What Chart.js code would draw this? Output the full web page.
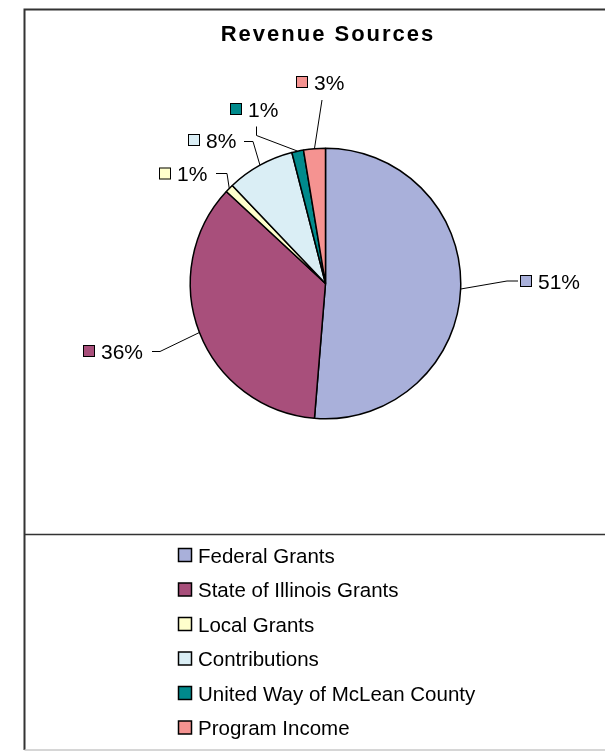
<!DOCTYPE html>
<html>
<head>
<meta charset="utf-8">
<title>Revenue Sources</title>
<script src="https://cdn.jsdelivr.net/npm/chart.js@4.4.1/dist/chart.umd.min.js"></script>
<style>
  body { margin: 0; background: #fff; }
  canvas { display: block; }
</style>
</head>
<body>
<canvas id="pie" width="605" height="751"></canvas>
<script>
// data
var categories = ["Federal Grants", "State of Illinois Grants", "Local Grants",
                  "Contributions", "United Way of McLean County", "Program Income"];
var shares = [51.3, 35.6, 1.0, 8.1, 1.4, 2.6];
var sliceColors = ["#A9B0DA", "#A84F7B", "#FFFFCC", "#DAEEF5", "#008A8C", "#F59391"];

var FONT = "'Liberation Sans', Arial, sans-serif";

// where each percentage label sits (box left, box middle) and how its leader bends
var labelSpots = [
    { bx: 520, by: 281, elbow: [507, 281], end: [518, 281] },
    { bx: 83, by: 351, elbow: [160, 351.5], end: [152, 351.5] },
    { bx: 159, by: 173.5, elbow: [227, 173.5], end: [216, 173.5] },
    { bx: 188, by: 140, elbow: [253, 141.5], end: [244, 141.5] },
    { bx: 230, by: 109, elbow: [256.5, 135.5], end: [256.5, 126.5] },
    { bx: 296, by: 82, elbow: [322, 100], end: [322, 100] }
];

var frame = {
    id: "frame",
    beforeDraw: function (chart) {
        var c = chart.ctx;
        c.save();
        c.fillStyle = "#fff";
        c.fillRect(0, 0, chart.width, chart.height);
        // outer border (right edge runs off the picture)
        c.strokeStyle = "#333";
        c.lineWidth = 2;
        c.beginPath();
        c.moveTo(610, 9.5);
        c.lineTo(24.5, 9.5);
        c.lineTo(24.5, 750);
        c.stroke();
        c.strokeStyle = "#c8c8c8";
        c.lineWidth = 1.5;
        c.beginPath();
        c.moveTo(24.5, 750);
        c.lineTo(610, 750);
        c.stroke();
        // line above the legend
        c.strokeStyle = "#333";
        c.lineWidth = 1.5;
        c.beginPath();
        c.moveTo(24.5, 534.5);
        c.lineTo(610, 534.5);
        c.stroke();
        // title
        c.fillStyle = "#000";
        c.font = "bold 22px " + FONT;
        c.letterSpacing = "2px";
        c.textAlign = "center";
        c.textBaseline = "alphabetic";
        c.fillText("Revenue Sources", 328, 40.5);
        c.restore();
    }
};

var pctLabels = {
    id: "pctLabels",
    afterDatasetsDraw: function (chart) {
        var c = chart.ctx;
        var meta = chart.getDatasetMeta(0);
        c.save();
        c.font = "21px " + FONT;
        c.textAlign = "left";
        c.textBaseline = "alphabetic";
        meta.data.forEach(function (arc, i) {
            var spot = labelSpots[i];
            var mid = (arc.startAngle + arc.endAngle) / 2;
            var px = arc.x + Math.cos(mid) * arc.outerRadius;
            var py = arc.y + Math.sin(mid) * arc.outerRadius;
            // leader line
            c.strokeStyle = "#000";
            c.lineWidth = 1;
            c.beginPath();
            c.moveTo(px, py);
            c.lineTo(spot.elbow[0], spot.elbow[1]);
            c.lineTo(spot.end[0], spot.end[1]);
            c.stroke();
            // colour key
            c.fillStyle = sliceColors[i];
            c.fillRect(spot.bx, spot.by - 6, 12, 12);
            c.strokeRect(spot.bx + 0.5, spot.by - 5.5, 11, 11);
            c.fillStyle = "#000";
            c.fillText(Math.round(shares[i]) + "%", spot.bx + 18, spot.by + 7.5);
        });
        c.restore();
    }
};

var legendBox = {
    id: "legendBox",
    afterDraw: function (chart) {
        var c = chart.ctx;
        c.save();
        c.font = "20.5px " + FONT;
        c.textBaseline = "alphabetic";
        categories.forEach(function (name, i) {
            var y = 555 + i * 34.5;
            c.fillStyle = sliceColors[i];
            c.fillRect(178.5, y - 6.5, 13, 13);
            c.strokeStyle = "#000";
            c.lineWidth = 1.5;
            c.strokeRect(178.5, y - 6.5, 13, 13);
            c.fillStyle = "#000";
            c.fillText(name, 198, y + 7.5);
        });
        c.restore();
    }
};

var ctx = document.getElementById("pie").getContext("2d");
var myPie = new Chart(ctx, {
    type: "pie",
    data: {
        labels: categories,
        datasets: [{
            data: shares,
            backgroundColor: sliceColors,
            borderColor: "#000",
            borderWidth: 1.5
        }]
    },
    options: {
        responsive: false,
        animation: false,
        layout: { padding: { left: 189.5, right: 143.5, top: 147.5, bottom: 331.5 } },
        plugins: {
            legend: { display: false },
            tooltip: { enabled: false }
        }
    },
    plugins: [frame, pctLabels, legendBox]
});
</script>
</body>
</html>
